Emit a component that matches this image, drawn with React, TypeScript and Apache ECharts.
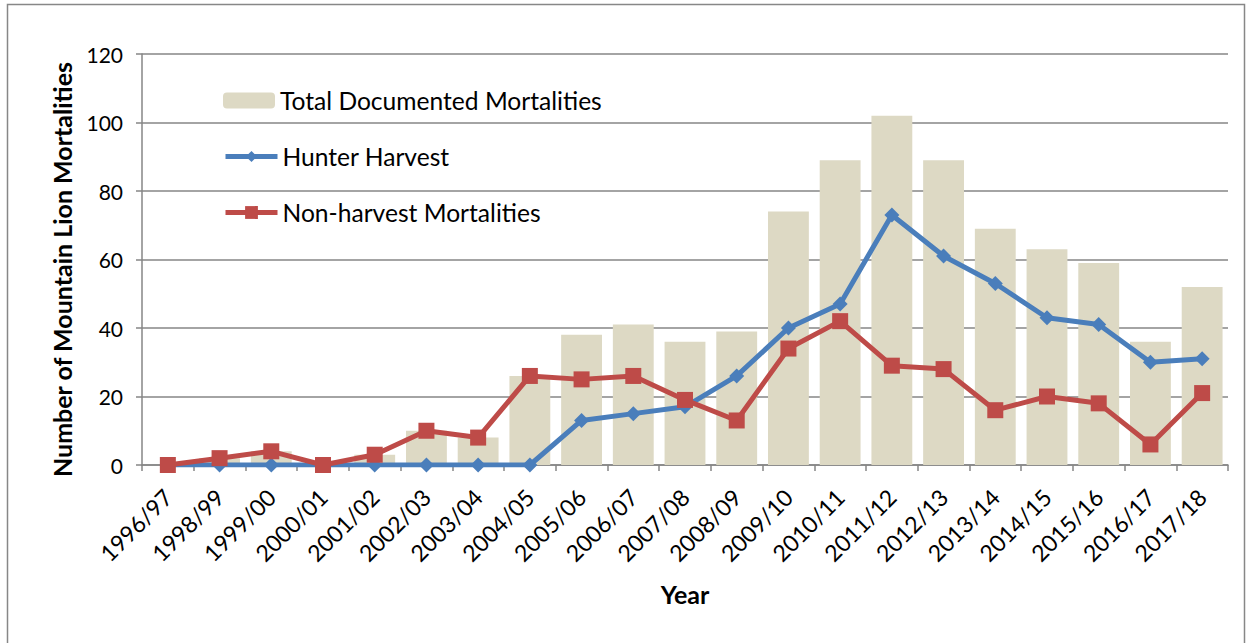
import React, { useEffect, useRef } from "react";
import * as echarts from "echarts";

const categories = ["1996/97","1998/99","1999/00","2000/01","2001/02","2002/03","2003/04","2004/05","2005/06","2006/07","2007/08","2008/09","2009/10","2010/11","2011/12","2012/13","2013/14","2014/15","2015/16","2016/17","2017/18"];
const totalMortalities = [0,2,4,0,3,10,8,26,38,41,36,39,74,89,102,89,69,63,59,36,52];
const hunterHarvest = [0,0,0,0,0,0,0,0,13,15,17,26,40,47,73,61,53,43,41,30,31];
const nonHarvest = [0,2,4,0,3,10,8,26,25,26,19,13,34,42,29,28,16,20,18,6,21];
const yTicks = [0, 20, 40, 60, 80, 100, 120];

const FONT = "Lato, 'Open Sans', sans-serif";

export default function App() {
  const ref = useRef<HTMLDivElement>(null);
  useEffect(() => {
    if (!ref.current) return;
    const chart = echarts.init(ref.current, undefined, { renderer: "svg" });
    const legendText = { fontSize: 24.6, color: "#000", fontFamily: FONT };
    const legendLine = { width: 5 };
    chart.setOption({
      animation: false,
      backgroundColor: "#fff",
      textStyle: { fontFamily: FONT },
      graphic: [
        { type: "rect", shape: { x: 7.5, y: 4.5, width: 1237, height: 660 }, style: { fill: "none", stroke: "#878787", lineWidth: 1.5 }, silent: true },
      ],
      grid: { left: 142, right: 25, top: 54, bottom: 178 },
      legend: [
        { data: ["Total Documented Mortalities"], left: 218, top: 83, itemWidth: 52, itemHeight: 16, textStyle: legendText },
        { data: ["Hunter Harvest"], left: 218, top: 139, itemWidth: 52, itemHeight: 14, textStyle: legendText, lineStyle: legendLine },
        { data: ["Non-harvest Mortalities"], left: 218, top: 195, itemWidth: 52, itemHeight: 16, textStyle: legendText, lineStyle: legendLine },
      ],
      xAxis: {
        type: "category",
        data: categories,
        boundaryGap: true,
        name: "Year",
        nameLocation: "middle",
        nameGap: 116,
        nameTextStyle: { fontSize: 25, fontWeight: "bold", color: "#000", fontFamily: FONT },
        axisLine: { lineStyle: { color: "#868686", width: 1.5 } },
        axisTick: { show: true, alignWithLabel: false, length: 6, lineStyle: { color: "#868686", width: 1.5 } },
        axisLabel: { rotate: 45, fontSize: 23, color: "#000", margin: 28, interval: 0, fontFamily: FONT },
      },
      yAxis: {
        type: "value",
        min: yTicks[0],
        max: yTicks[yTicks.length - 1],
        interval: 20,
        name: "Number of Mountain Lion Mortalities",
        nameLocation: "middle",
        nameGap: 68,
        nameTextStyle: { fontSize: 25, fontWeight: "bold", color: "#000", fontFamily: FONT, padding: [0, 20, 0, 0] },
        axisLine: { show: true, lineStyle: { color: "#868686", width: 1.5 } },
        axisTick: { show: true, length: 6, lineStyle: { color: "#868686", width: 1.5 } },
        axisLabel: { fontSize: 21, color: "#000", margin: 19, fontFamily: FONT },
        splitLine: { show: true, lineStyle: { color: "#868686", width: 1.5 } },
      },
      series: [
        {
          name: "Total Documented Mortalities",
          type: "bar",
          data: totalMortalities,
          barCategoryGap: "21%",
          itemStyle: { color: "#DDD9C4" },
          z: 1,
        },
        {
          name: "Hunter Harvest",
          type: "line",
          data: hunterHarvest,
          symbol: "diamond",
          symbolSize: 15,
          lineStyle: { color: "#4A7EBB", width: 5 },
          itemStyle: { color: "#4A7EBB" },
          z: 3,
        },
        {
          name: "Non-harvest Mortalities",
          type: "line",
          data: nonHarvest,
          symbol: "rect",
          symbolSize: 16,
          lineStyle: { color: "#BE4B48", width: 5 },
          itemStyle: { color: "#BE4B48" },
          z: 4,
        },
      ],
    });
    return () => chart.dispose();
  }, []);
  return <div ref={ref} style={{ position: "absolute", left: 0, top: 0, width: 1253, height: 643 }} />;
}
